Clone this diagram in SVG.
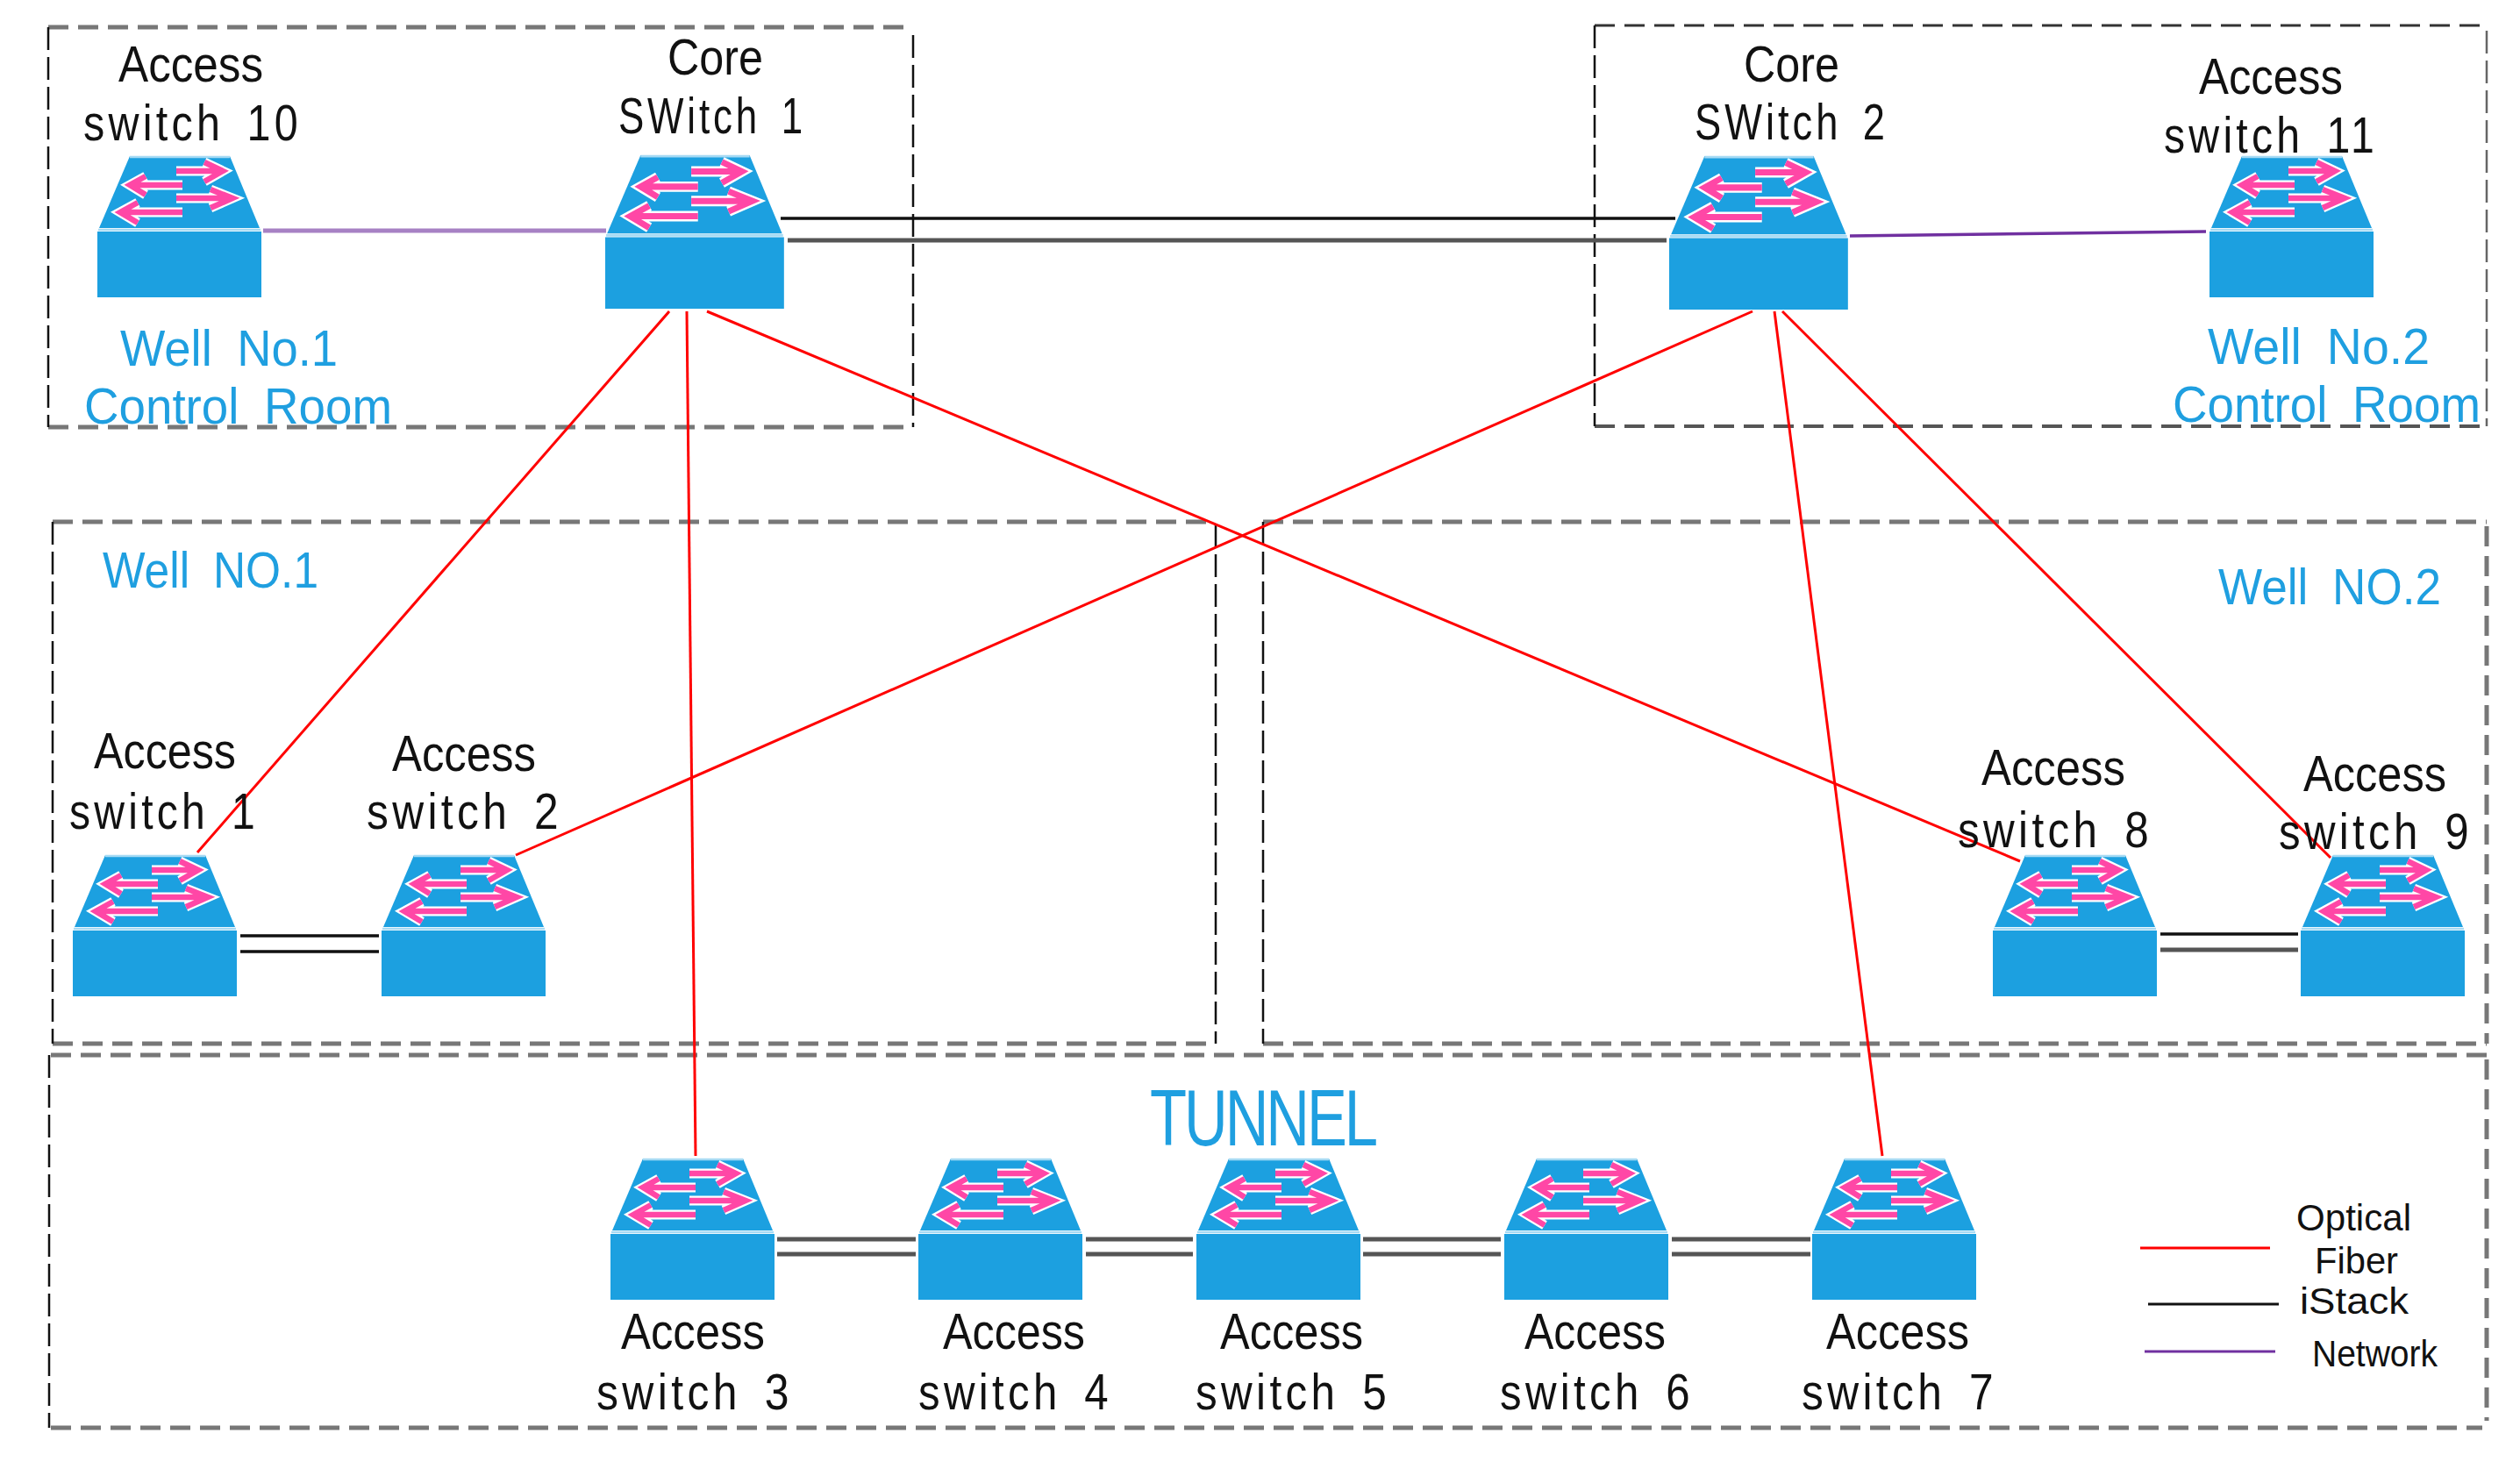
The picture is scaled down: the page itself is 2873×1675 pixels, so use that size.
<svg xmlns="http://www.w3.org/2000/svg" width="2873" height="1675" viewBox="0 0 2873 1675">
<style>
text{font-family:"Liberation Sans",Arial,sans-serif}
.k{font-size:57px;fill:#111}
.s{font-size:57px;fill:#111;letter-spacing:5px;word-spacing:10px}
.b{font-size:57px;fill:#1f9fe0;word-spacing:14px}
.t{font-size:91px;fill:#1f9fe0;letter-spacing:-4px}
.l{font-size:42px;fill:#111}
.gh{stroke:#777;stroke-width:5;stroke-dasharray:23 11;fill:none}
.gd{stroke:#333;stroke-width:3;stroke-dasharray:23 11;fill:none}
.gv{stroke:#777;stroke-width:5;stroke-dasharray:23 11;fill:none}
.kv{stroke:#111;stroke-width:2.5;stroke-dasharray:26 8;fill:none}
.red{stroke:#f00;stroke-width:3;fill:none}
.pur{stroke:#a781c4;stroke-width:5;fill:none}
.pur2{stroke:#7030a0;stroke-width:3.5;fill:none}
.stk{stroke:#111;stroke-width:3.5;fill:none}
.stg{stroke:#555;stroke-width:5;fill:none}
.body{fill:#1ca0e0}
.edge{stroke:#a6daf4;stroke-width:2.5;fill:none}
.aw{stroke:#fff;stroke-width:11;fill:none}
.ap{stroke:#ff47a6;stroke-width:6.5;fill:none}
</style>
<defs>
<path id="arrows" d="M90 17H141M122 7L143 17L122 29M97 33H39M55 23L37 33L55 44M90 48H152M129 38L154 48L129 59M97 64H28M46 53L26 64L46 76"/>
<g id="sw">
<path class="body" d="M37 0H151L185 82H2Z"/>
<rect class="body" x="0" y="86" width="187" height="75"/>
<path class="edge" d="M37 1H151M1 84H186"/>
<use href="#arrows" class="aw"/>
<use href="#arrows" class="ap"/>
</g>
</defs>
<rect width="2873" height="1675" fill="#fff"/>
<g id="regions">
<g id="region-well1-control-room">
<path class="gh" d="M55 31H1041M55 487H1041"/>
<path class="kv" d="M55 31V487M1041 40V487"/>
<text class="b" x="137" y="417" textLength="248" lengthAdjust="spacingAndGlyphs">Well No.1</text>
<text class="b" x="96" y="483" textLength="351" lengthAdjust="spacingAndGlyphs">Control Room</text>
</g>
<g id="region-well2-control-room">
<path class="gd" d="M1818 29H2835"/>
<path class="gh" style="stroke:#555;stroke-width:4" d="M1818 486H2835"/>
<path class="kv" d="M1818 29V486"/>
<path class="kv" style="stroke:#666" d="M2835 35V486"/>
<text class="b" x="2517" y="415" textLength="253" lengthAdjust="spacingAndGlyphs">Well No.2</text>
<text class="b" x="2477" y="481" textLength="351" lengthAdjust="spacingAndGlyphs">Control Room</text>
</g>
<g id="region-well1">
<path class="gh" d="M60 595H1386M60 1190H1386"/>
<path class="kv" d="M60 595V1190M1386 598V1190"/>
<text class="b" x="117" y="670" textLength="246" lengthAdjust="spacingAndGlyphs">Well NO.1</text>
</g>
<g id="region-well2">
<path class="gh" d="M1440 595H2835M1440 1190H2835"/>
<path class="kv" d="M1440 595V1190"/>
<path class="gv" d="M2835 600V1190"/>
<text class="b" x="2529" y="689" textLength="254" lengthAdjust="spacingAndGlyphs">Well NO.2</text>
</g>
<g id="region-tunnel">
<path class="gh" d="M58 1203H2835M58 1628H2830"/>
<path class="kv" d="M56 1203V1628"/>
<path class="gv" d="M2835 1208V1620"/>
<text class="t" x="1311" y="1306" textLength="257" lengthAdjust="spacingAndGlyphs">TUNNEL</text>
</g>
</g>
<g id="connectors">
<path class="red" d="M763 355L225 972"/>
<path class="red" d="M783 355L793 1318"/>
<path class="red" d="M806 355L2303 982"/>
<path class="red" d="M1998 355L588 975"/>
<path class="red" d="M2023 355L2146 1318"/>
<path class="red" d="M2032 355L2657 978"/>
<path class="pur" d="M300 263H691"/>
<path class="pur2" d="M2109 269L2515 264"/>
<path class="stk" d="M890 249H1910"/>
<path class="stg" d="M898 274H1900"/>
<path class="stk" d="M274 1067H432M274 1085H432"/>
<path class="stk" d="M2463 1065H2620"/>
<path class="stg" d="M2463 1083H2620"/>
<path class="stg" d="M886 1413H1044M886 1430H1044M1238 1413H1360M1238 1430H1360M1554 1413H1711M1554 1430H1711M1906 1413H2064M1906 1430H2064"/>
</g>
<g id="access-switch-10"><use href="#sw" transform="translate(111 178)"/>
<text class="k" x="135" y="93" textLength="165" lengthAdjust="spacingAndGlyphs">Access</text>
<text class="s" x="95" y="160" textLength="249" lengthAdjust="spacingAndGlyphs">switch 10</text></g>
<g id="core-switch-1"><use href="#sw" transform="translate(690 177) scale(1.09 1.087)"/>
<text class="k" x="761" y="85" textLength="109" lengthAdjust="spacingAndGlyphs">Core</text>
<text class="s" x="705" y="152" textLength="214" lengthAdjust="spacingAndGlyphs">SWitch 1</text></g>
<g id="core-switch-2"><use href="#sw" transform="translate(1903 178) scale(1.09 1.087)"/>
<text class="k" x="1988" y="93" textLength="109" lengthAdjust="spacingAndGlyphs">Core</text>
<text class="s" x="1932" y="159" textLength="221" lengthAdjust="spacingAndGlyphs">SWitch 2</text></g>
<g id="access-switch-11"><use href="#sw" transform="translate(2519 178)"/>
<text class="k" x="2507" y="107" textLength="164" lengthAdjust="spacingAndGlyphs">Access</text>
<text class="s" x="2467" y="174" textLength="244" lengthAdjust="spacingAndGlyphs">switch 11</text></g>
<g id="access-switch-1"><use href="#sw" transform="translate(83 975)"/>
<text class="k" x="107" y="876" textLength="162" lengthAdjust="spacingAndGlyphs">Access</text>
<text class="s" x="79" y="945" textLength="216" lengthAdjust="spacingAndGlyphs">switch 1</text></g>
<g id="access-switch-2"><use href="#sw" transform="translate(435 975)"/>
<text class="k" x="447" y="879" textLength="164" lengthAdjust="spacingAndGlyphs">Access</text>
<text class="s" x="418" y="945" textLength="223" lengthAdjust="spacingAndGlyphs">switch 2</text></g>
<g id="access-switch-8"><use href="#sw" transform="translate(2272 975)"/>
<text class="k" x="2259" y="895" textLength="164" lengthAdjust="spacingAndGlyphs">Access</text>
<text class="s" x="2232" y="966" textLength="222" lengthAdjust="spacingAndGlyphs">switch 8</text></g>
<g id="access-switch-9"><use href="#sw" transform="translate(2623 975)"/>
<text class="k" x="2626" y="902" textLength="163" lengthAdjust="spacingAndGlyphs">Access</text>
<text class="s" x="2598" y="968" textLength="221" lengthAdjust="spacingAndGlyphs">switch 9</text></g>
<g id="access-switch-3"><use href="#sw" transform="translate(696 1321)"/>
<text class="k" x="708" y="1538" textLength="164" lengthAdjust="spacingAndGlyphs">Access</text>
<text class="s" x="680" y="1607" textLength="224" lengthAdjust="spacingAndGlyphs">switch 3</text></g>
<g id="access-switch-4"><use href="#sw" transform="translate(1047 1321)"/>
<text class="k" x="1075" y="1538" textLength="162" lengthAdjust="spacingAndGlyphs">Access</text>
<text class="s" x="1047" y="1607" textLength="221" lengthAdjust="spacingAndGlyphs">switch 4</text></g>
<g id="access-switch-5"><use href="#sw" transform="translate(1364 1321)"/>
<text class="k" x="1391" y="1538" textLength="163" lengthAdjust="spacingAndGlyphs">Access</text>
<text class="s" x="1363" y="1607" textLength="222" lengthAdjust="spacingAndGlyphs">switch 5</text></g>
<g id="access-switch-6"><use href="#sw" transform="translate(1715 1321)"/>
<text class="k" x="1738" y="1538" textLength="161" lengthAdjust="spacingAndGlyphs">Access</text>
<text class="s" x="1710" y="1607" textLength="221" lengthAdjust="spacingAndGlyphs">switch 6</text></g>
<g id="access-switch-7"><use href="#sw" transform="translate(2066 1321)"/>
<text class="k" x="2082" y="1538" textLength="163" lengthAdjust="spacingAndGlyphs">Access</text>
<text class="s" x="2054" y="1607" textLength="223" lengthAdjust="spacingAndGlyphs">switch 7</text></g>
<g id="legend">
<path class="red" d="M2440 1423H2588"/>
<path class="stk" style="stroke-width:3" d="M2449 1487H2598"/>
<path class="pur2" style="stroke-width:3" d="M2445 1541H2594"/>
<text class="l" x="2618" y="1403" textLength="131" lengthAdjust="spacingAndGlyphs">Optical</text>
<text class="l" x="2639" y="1452" textLength="95" lengthAdjust="spacingAndGlyphs">Fiber</text>
<text class="l" x="2622" y="1498" textLength="124" lengthAdjust="spacingAndGlyphs">iStack</text>
<text class="l" x="2636" y="1558" textLength="143" lengthAdjust="spacingAndGlyphs">Network</text>
</g>
</svg>
